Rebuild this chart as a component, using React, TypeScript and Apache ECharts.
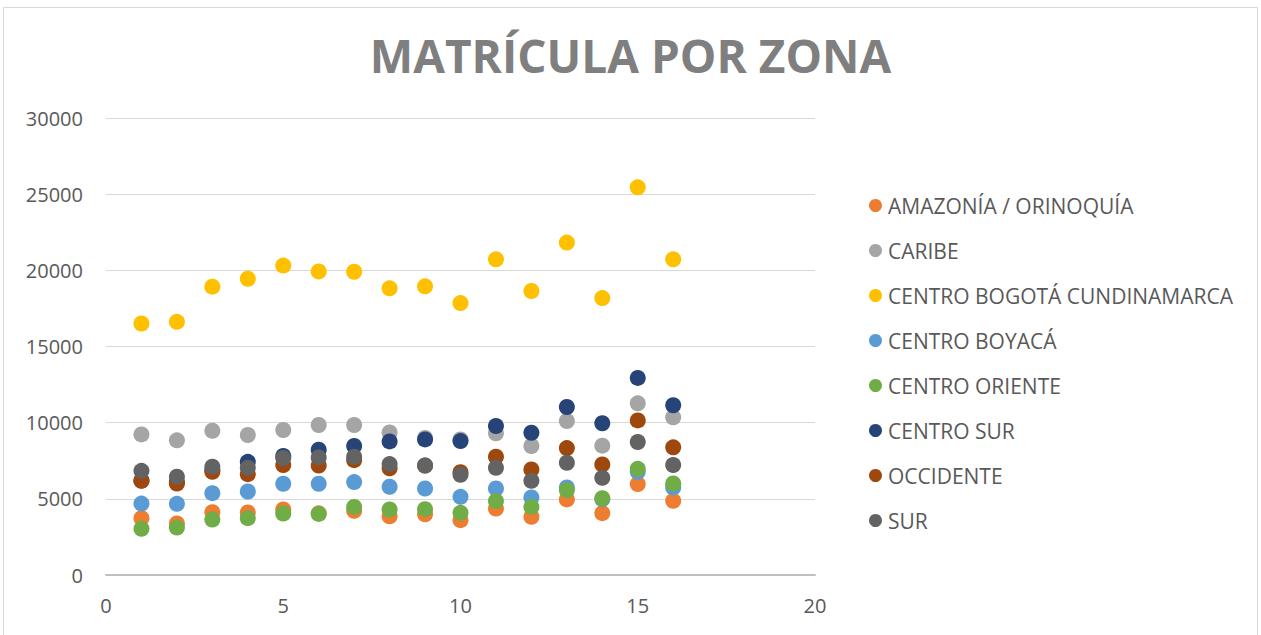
import React, { useEffect, useRef } from "react";
import * as echarts from "echarts";

const periods = [1, 2, 3, 4, 5, 6, 7, 8, 9, 10, 11, 12, 13, 14, 15, 16];

const seriesNames = [
  "AMAZONÍA / ORINOQUÍA",
  "CARIBE",
  "CENTRO BOGOTÁ CUNDINAMARCA",
  "CENTRO BOYACÁ",
  "CENTRO ORIENTE",
  "CENTRO SUR",
  "OCCIDENTE",
  "SUR",
];

const amazonia = [3730, 3380, 4120, 4100, 4300, 4050, 4210, 3860, 3990, 3600, 4360, 3820, 4960, 4060, 5970, 4870];
const caribe = [9230, 8840, 9470, 9190, 9520, 9850, 9850, 9360, 9000, 8900, 9300, 8470, 10110, 8490, 11270, 10350];
const bogota = [16510, 16620, 18930, 19450, 20310, 19930, 19910, 18820, 18950, 17850, 20720, 18640, 21820, 18180, 25450, 20720];
const boyaca = [4690, 4670, 5370, 5480, 5990, 5990, 6100, 5790, 5680, 5130, 5680, 5090, 5750, 4980, 6780, 5750];
const oriente = [3030, 3110, 3640, 3730, 4040, 4010, 4470, 4300, 4320, 4080, 4850, 4470, 5570, 5040, 6970, 6010];
const centroSur = [6200, 6100, 6900, 7430, 7810, 8220, 8470, 8770, 8900, 8790, 9780, 9340, 11030, 9960, 12940, 11140];
const occidente = [6180, 6010, 6780, 6620, 7220, 7190, 7540, 7000, 7180, 6750, 7760, 6930, 8330, 7260, 10150, 8380];
const sur = [6840, 6450, 7110, 7040, 7680, 7720, 7760, 7280, 7190, 6580, 7040, 6180, 7370, 6380, 8730, 7220];

const seriesValues = [amazonia, caribe, bogota, boyaca, oriente, centroSur, occidente, sur];
const colors = ["#ed7d31", "#a5a5a5", "#ffc000", "#5b9bd5", "#70ad47", "#264478", "#9e480e", "#636363"];

const xTicks = { min: 0, max: 20, interval: 5 };
const yTicks = { min: 0, max: 30000, interval: 5000 };

export default function App() {
  const ref = useRef<HTMLDivElement>(null);
  useEffect(() => {
    document.body.style.margin = "0";
    if (!ref.current) return;
    const chart = echarts.init(ref.current, null, { renderer: "svg" });
    const font = "'Open Sans', 'Noto Sans', sans-serif";
    chart.setOption({
      animation: false,
      backgroundColor: "#ffffff",
      color: colors,
      title: {
        text: "MATRÍCULA POR ZONA",
        left: "center",
        top: 27,
        textStyle: { fontFamily: font, fontSize: 46, fontWeight: "bold", color: "#7f7f7f" },
      },
      graphic: [
        {
          type: "rect",
          shape: { x: 3.5, y: 7.5, width: 1254, height: 640 },
          style: { fill: "none", stroke: "#d9d9d9", lineWidth: 1 },
          silent: true,
        },
      ],
      legend: {
        orient: "vertical",
        left: 864,
        top: 190,
        icon: "circle",
        itemWidth: 13,
        itemHeight: 13,
        itemGap: 24,
        textStyle: { fontFamily: font, fontSize: 21, color: "#595959", padding: [0, 0, 0, 1] },
        data: seriesNames,
      },
      grid: { left: 106, right: 446, top: 118, bottom: 60, containLabel: false },
      xAxis: {
        type: "value",
        min: xTicks.min,
        max: xTicks.max,
        interval: xTicks.interval,
        axisLine: { show: true, onZero: false, lineStyle: { color: "#bfbfbf", width: 2 } },
        axisTick: { show: false },
        splitLine: { show: false },
        axisLabel: { fontFamily: font, fontSize: 20, color: "#595959", margin: 20 },
      },
      yAxis: {
        type: "value",
        min: yTicks.min,
        max: yTicks.max,
        interval: yTicks.interval,
        axisLine: { show: false },
        axisTick: { show: false },
        splitLine: { show: true, lineStyle: { color: "#d9d9d9", width: 1 } },
        axisLabel: {
          fontFamily: font,
          fontSize: 20,
          color: "#595959",
          margin: 23,
          formatter: (v: number) => String(v),
        },
      },
      series: seriesNames.map((name, i) => ({
        name,
        type: "scatter",
        symbol: "circle",
        symbolSize: 16,
        itemStyle: { color: colors[i], opacity: 1 },
        data: periods.map((p, j) => [p, seriesValues[i][j]]),
      })),
    });
    return () => chart.dispose();
  }, []);
  return <div ref={ref} style={{ width: 1261, height: 635 }} />;
}
